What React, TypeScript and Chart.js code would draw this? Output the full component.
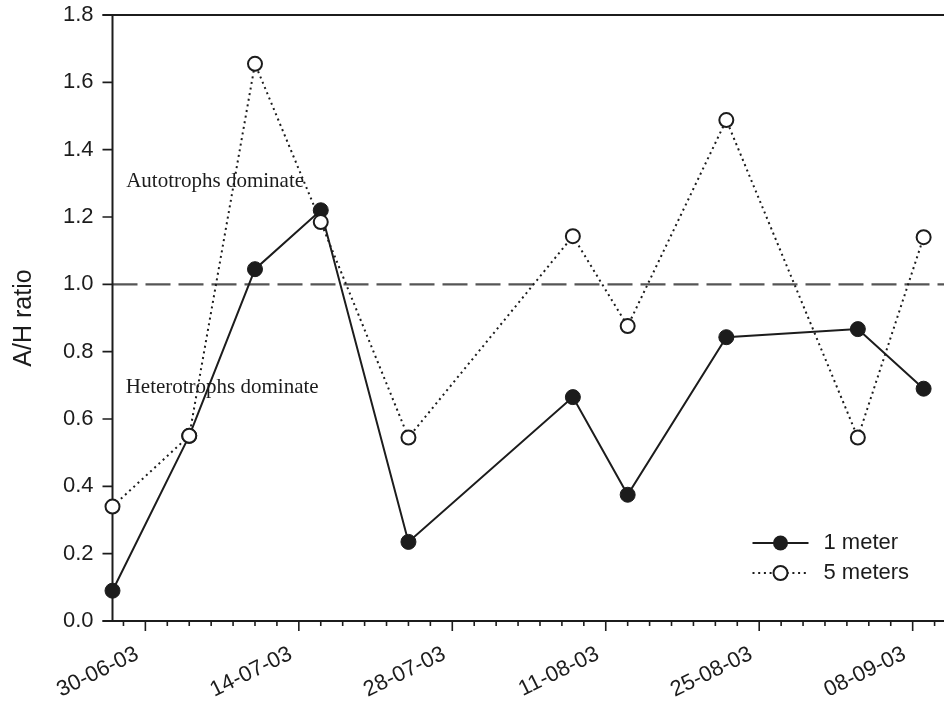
import { useEffect, useRef } from "react";
import { Chart, registerables } from "chart.js";

Chart.register(...registerables);

// Sampling dates (dd-mm-yy) and A/H ratios at the two depths
const sampleDates = [
  "27-06-03", "04-07-03", "10-07-03", "16-07-03", "24-07-03",
  "08-08-03", "13-08-03", "22-08-03", "03-09-03", "09-09-03",
];
const oneMeter = [0.09, 0.55, 1.045, 1.22, 0.235, 0.665, 0.375, 0.843, 0.867, 0.69];
const fiveMeters = [0.34, 0.55, 1.655, 1.185, 0.545, 1.143, 0.876, 1.488, 0.545, 1.14];

// Labelled dates on the time axis
const tickLabels = ["30-06-03", "14-07-03", "28-07-03", "11-08-03", "25-08-03", "08-09-03"];

// Axis ranges
const axisStart = "27-06-03";
const axisEnd = "14-09-03";
const yMin = 0;
const yMax = 1.8;
const yStep = 0.2;
const minorStepDays = 2;
const balanceRatio = 1.0;

const INK = "#1c1c1c";
const SANS = '"Liberation Sans", Arial, sans-serif';
const SERIF = '"Liberation Serif", "Times New Roman", serif';

const DAY_MS = 86400000;
function toUTC(s: string): number {
  const [d, m, y] = s.split("-").map(Number);
  return Date.UTC(2000 + y, m - 1, d);
}
const origin = toUTC(axisStart);
const dayOf = (s: string) => Math.round((toUTC(s) - origin) / DAY_MS);

const sampleDays = sampleDates.map(dayOf);
const majorDays = tickLabels.map(dayOf);
const lastDay = dayOf(axisEnd);

const framePlugin = {
  id: "frame",
  beforeDatasetsDraw(chart: any) {
    const { ctx, chartArea: a, scales } = chart;
    const x = scales.x;
    const y = scales.y;
    ctx.save();

    // A/H = 1 reference line
    const yb = y.getPixelForValue(balanceRatio);
    ctx.strokeStyle = "#555";
    ctx.lineWidth = 2.2;
    ctx.setLineDash([25, 8]);
    ctx.beginPath();
    ctx.moveTo(a.left, yb);
    ctx.lineTo(a.right, yb);
    ctx.stroke();
    ctx.setLineDash([]);

    // axis lines and top border
    ctx.strokeStyle = INK;
    ctx.lineWidth = 2;
    ctx.beginPath();
    ctx.moveTo(a.left, a.top);
    ctx.lineTo(a.left, a.bottom);
    ctx.moveTo(a.left - 10, a.bottom);
    ctx.lineTo(a.right, a.bottom);
    ctx.moveTo(a.left - 10, a.top);
    ctx.lineTo(a.right, a.top);
    ctx.stroke();

    // tick marks
    ctx.lineWidth = 1.6;
    ctx.beginPath();
    y.ticks.forEach((t: any) => {
      const py = y.getPixelForValue(t.value);
      ctx.moveTo(a.left - 10, py);
      ctx.lineTo(a.left, py);
    });
    x.ticks.forEach((t: any) => {
      const px = x.getPixelForValue(t.value);
      const len = majorDays.includes(t.value) ? 10 : 5;
      ctx.moveTo(px, a.bottom);
      ctx.lineTo(px, a.bottom + len);
    });
    ctx.stroke();
    ctx.restore();
  },
  afterDraw(chart: any) {
    const { ctx, chartArea: a, scales } = chart;
    const x = scales.x;
    const y = scales.y;
    ctx.save();

    // region annotations
    ctx.fillStyle = INK;
    ctx.font = `21px ${SERIF}`;
    ctx.textAlign = "left";
    ctx.textBaseline = "middle";
    ctx.fillText("Autotrophs dominate", x.getPixelForValue(1.25), y.getPixelForValue(1.305));
    ctx.fillText("Heterotrophs dominate", x.getPixelForValue(1.2), y.getPixelForValue(0.695));

    // legend
    const lx0 = a.left + 640;
    const lx1 = a.left + 696;
    const mx = (lx0 + lx1) / 2;
    const tx = a.left + 711;
    const rows = [a.bottom - 78, a.bottom - 48];
    ctx.font = `22px ${SANS}`;
    ctx.strokeStyle = INK;

    ctx.lineWidth = 2;
    ctx.beginPath();
    ctx.moveTo(lx0, rows[0]);
    ctx.lineTo(lx1, rows[0]);
    ctx.stroke();
    ctx.beginPath();
    ctx.arc(mx, rows[0], 7.5, 0, Math.PI * 2);
    ctx.fill();
    ctx.fillText("1 meter", tx, rows[0]);

    ctx.setLineDash([2, 3.7]);
    ctx.beginPath();
    ctx.moveTo(lx0, rows[1]);
    ctx.lineTo(lx1, rows[1]);
    ctx.stroke();
    ctx.setLineDash([]);
    ctx.beginPath();
    ctx.arc(mx, rows[1], 7, 0, Math.PI * 2);
    ctx.fillStyle = "#fff";
    ctx.fill();
    ctx.stroke();
    ctx.fillStyle = INK;
    ctx.fillText("5 meters", tx, rows[1]);

    ctx.restore();
  },
};

export default function App() {
  const ref = useRef<HTMLCanvasElement>(null);

  useEffect(() => {
    document.body.style.margin = "0";
    document.body.style.overflow = "hidden";
    const canvas = ref.current;
    if (!canvas) return;

    const minorTicks: number[] = [];
    for (let d = majorDays[0] % minorStepDays; d <= lastDay; d += minorStepDays) minorTicks.push(d);

    const chart = new Chart(canvas, {
      type: "line",
      data: {
        datasets: [
          {
            label: "1 meter",
            data: sampleDays.map((d, i) => ({ x: d, y: oneMeter[i] })),
            borderColor: INK,
            backgroundColor: INK,
            borderWidth: 2,
            pointRadius: 7.5,
            pointBackgroundColor: INK,
            pointBorderColor: INK,
            pointBorderWidth: 1,
            order: 2,
            clip: false,
          },
          {
            label: "5 meters",
            data: sampleDays.map((d, i) => ({ x: d, y: fiveMeters[i] })),
            borderColor: INK,
            backgroundColor: "#ffffff",
            borderWidth: 2,
            borderDash: [2, 3.7],
            pointRadius: 7,
            pointBackgroundColor: "#ffffff",
            pointBorderColor: INK,
            pointBorderWidth: 2,
            order: 1,
            clip: false,
          },
        ],
      },
      options: {
        responsive: false,
        animation: false,
        layout: { padding: { top: 15, right: 8.3, left: 0, bottom: 0 } },
        plugins: {
          legend: { display: false },
          tooltip: { enabled: false },
        },
        scales: {
          x: {
            type: "linear",
            min: 0,
            max: lastDay,
            afterBuildTicks: (s: any) => {
              s.ticks = minorTicks.map((v) => ({ value: v }));
            },
            afterFit: (s: any) => {
              s.height = 80;
            },
            grid: { display: false, drawTicks: true, tickLength: 10 },
            border: { display: false },
            ticks: {
              autoSkip: false,
              minRotation: 26,
              maxRotation: 26,
              padding: 10,
              labelOffset: -8,
              color: INK,
              font: { family: SANS, size: 22 },
              callback: (v: any) => {
                const i = majorDays.indexOf(Number(v));
                return i >= 0 ? tickLabels[i] : "";
              },
            },
          },
          y: {
            min: yMin,
            max: yMax,
            afterFit: (s: any) => {
              s.width = 112.5;
            },
            grid: { display: false, drawTicks: true, tickLength: 19 },
            border: { display: false },
            ticks: {
              stepSize: yStep,
              padding: 0,
              color: INK,
              font: { family: SANS, size: 22 },
              callback: (v: any) => Number(v).toFixed(1),
            },
            title: {
              display: true,
              text: "A/H ratio",
              color: INK,
              font: { family: SANS, size: 25 },
              padding: { top: 9, bottom: 0 },
            },
          },
        },
      },
      plugins: [framePlugin],
    });

    return () => chart.destroy();
  }, []);

  return (
    <div style={{ width: 1000, height: 701 }}>
      <canvas ref={ref} width={1000} height={701} />
    </div>
  );
}
